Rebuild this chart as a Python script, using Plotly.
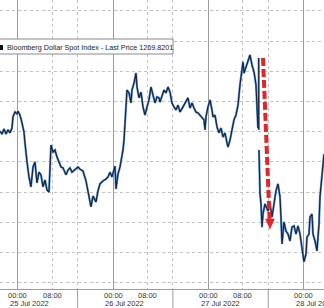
import plotly.graph_objects as go

# Hours since 25 Jul 2022 00:00 (Bloomberg intraday, compressed axis)
hours = [-4.53, -4.03, -3.52, -3.02, -2.52, -2.01, -1.51, -1.26, -0.76, -0.25, 0.00, 0.50, 1.01, 1.51,
         1.76, 2.01, 2.27, 2.77, 3.27, 3.78, 4.28, 4.78, 5.29, 5.79, 6.29, 6.80, 7.30, 7.80, 8.06, 8.31,
         8.81, 9.32, 9.82, 10.32, 10.83, 11.33, 12.08, 12.59, 13.09, 13.60, 14.35, 15.11, 15.61, 16.36,
         17.12, 17.62, 18.38, 18.88, 19.64, 20.14, 20.64, 21.40, 22.15, 22.66, 23.16, 23.66, 24.17, 24.42,
         24.67, 25.18, 25.68, 26.18, 26.43, 26.69, 26.94, 27.19, 27.44, 27.95, 28.45, 28.70, 29.20, 29.71,
         29.96, 30.46, 30.97, 31.47, 31.97, 32.48, 32.98, 33.48, 33.99, 34.49, 34.99, 35.50, 35.75, 36.25,
         36.76, 37.26, 37.76, 38.27, 38.77, 39.27, 39.78, 40.28, 40.79, 41.54, 42.30, 42.80, 43.30, 43.81,
         44.31, 44.81, 45.32, 45.82, 46.32, 46.83, 47.08, 47.33, 47.83, 48.34, 48.84, 49.09, 49.60, 50.10,
         50.60, 51.11, 51.61, 52.11, 52.62, 52.87, 53.37, 53.88, 54.38, 54.88, 55.39, 55.89, 56.39, 56.65,
         56.90, 57.40, 57.91, 58.41, 58.91, 59.42, 59.92, 60.17, 60.42, None, 60.60, 60.60, None, 60.67,
         60.80, 60.93, 61.18, 61.43, 61.68, 62.18, 62.94, 63.44, 63.95, 64.45, 64.95, 65.46, 65.96, 66.21,
         66.47, 66.97, 67.47, 67.98, 68.48, 68.98, 69.49, 69.99, 70.49, 71.00, 71.50, 71.75, 72.00, 72.51,
         72.76, 73.26, 73.51, 74.02, 74.27, 74.77, 75.28, 75.53, 75.78, 76.03, 76.28, 76.54, 76.79, 77.04]

price = [1271.02, 1270.92, 1271.09, 1270.92, 1271.06, 1270.96, 1271.12, 1271.49, 1271.65, 1271.59, 1271.68, 1271.55, 1271.29, 1270.99,
         1270.63, 1270.16, 1270.00, 1269.50, 1269.17, 1269.83, 1270.00, 1269.30, 1269.66, 1269.57, 1269.17, 1269.40, 1269.07, 1269.00, 1269.80, 1270.56,
         1270.33, 1270.39, 1270.16, 1270.00, 1269.83, 1269.80, 1269.57, 1269.73, 1269.80, 1269.66, 1269.73, 1269.83, 1269.76, 1269.70,
         1269.37, 1269.04, 1268.51, 1268.87, 1268.67, 1269.04, 1269.27, 1269.37, 1269.43, 1269.50, 1269.66, 1269.50, 1269.70, 1269.86,
         1269.10, 1269.60, 1269.83, 1270.16, 1270.39, 1270.72, 1271.32, 1271.95, 1272.38, 1272.28, 1271.95, 1272.38, 1272.61, 1272.94,
         1272.48, 1272.12, 1272.31, 1271.82, 1271.55, 1271.82, 1272.05, 1272.48, 1272.21, 1271.95, 1272.15, 1272.12, 1271.98, 1272.21,
         1272.38, 1272.28, 1272.48, 1272.31, 1271.95, 1271.82, 1271.72, 1271.88, 1271.65, 1271.82, 1271.98, 1272.12, 1271.78, 1271.95,
         1271.78, 1271.65, 1271.62, 1271.55, 1271.49, 1271.39, 1271.06, 1271.49, 1271.82, 1272.05, 1271.72, 1271.49, 1271.55, 1271.16,
         1270.96, 1271.12, 1270.82, 1270.96, 1270.63, 1270.49, 1270.72, 1271.06, 1271.39, 1271.55, 1271.88, 1272.55, 1273.14, 1273.31,
         1272.94, 1273.14, 1273.37, 1273.54, 1273.21, 1272.98, 1272.55, 1271.88, 1271.12, None, 1273.44, 1271.06, None, 1270.39,
         1269.40, 1268.94, 1268.61, 1267.84, 1268.27, 1268.61, 1268.37, 1268.61, 1268.17, 1268.54, 1269.04, 1269.27, 1268.84, 1268.17,
         1267.28, 1268.01, 1267.71, 1267.61, 1267.38, 1267.84, 1267.88, 1267.61, 1267.88, 1267.61, 1267.18, 1266.95, 1266.69, 1266.95,
         1267.51, 1267.61, 1268.17, 1268.27, 1267.61, 1267.38, 1267.05, 1267.51, 1267.94, 1268.84, 1269.17, 1269.60, 1270.03, 1270.26]

day_ticks = [0, 24, 48, 72]
day_dates = ["25 Jul 2022", "26 Jul 2022", "27 Jul 2022", "28 Jul 2022"]
hour_ticks = [8.6, 32.6, 56.6]
session_breaks = [15.0, 39.0, 63.0]
legend_text = "Bloomberg Dollar Spot Index - Last Price 1269.8201"
arrow_start = (61.68, 1273.44)
arrow_tip = (63.44, 1267.78)

fig = go.Figure()
fig.add_trace(go.Scatter(x=hours, y=price, mode="lines", connectgaps=False,
                         line=dict(color="#5a8fcf", width=2.2), hoverinfo="skip", showlegend=False))
fig.add_trace(go.Scatter(x=hours, y=price, mode="lines", connectgaps=False,
                         line=dict(color="#14233c", width=1.1), showlegend=False))

grid_minor = hour_ticks + session_breaks
fig.update_xaxes(range=[-4.53, 77.04], tickvals=day_ticks, showticklabels=False,
                 showgrid=True, gridcolor="#9c9c9c", gridwidth=1, zeroline=False,
                 showline=True, linecolor="#9c9c9c", linewidth=1, ticks="",
                 minor=dict(tickvals=grid_minor, showgrid=True, gridcolor="#c2c2c2",
                            griddash="dot", gridwidth=1))
fig.update_yaxes(range=[1265.79, 1275.36], tick0=1266, dtick=1, showticklabels=False,
                 showgrid=True, gridcolor="#c2c2c2", griddash="dot", gridwidth=1,
                 zeroline=False, showline=False)

font = dict(family="Liberation Sans, Arial, sans-serif", size=7.5, color="#333333")
annotations = []
for t, d in zip(day_ticks, day_dates):
    annotations.append(dict(x=t, y=0, xref="x", yref="paper", yanchor="top", yshift=-1,
                            text="00:00", showarrow=False, font=font, borderpad=0))
    annotations.append(dict(x=t, y=0, xref="x", yref="paper", yanchor="top", xanchor="left",
                            xshift=-9, yshift=-9, text=d, showarrow=False, font=font, borderpad=0))
for t in hour_ticks:
    annotations.append(dict(x=t, y=0, xref="x", yref="paper", yanchor="top", yshift=-1,
                            text="08:00", showarrow=False, font=font, borderpad=0))
annotations.append(dict(x=5 / 324, y=1 - 47.5 / 289, xref="paper", yref="paper",
                        xanchor="left", yanchor="middle", text=legend_text, showarrow=False,
                        font=dict(family="Liberation Sans, Arial, sans-serif", size=7.2, color="#222222")))

shapes = []
for s in session_breaks:
    shapes.append(dict(type="line", xref="x", yref="paper", x0=s, x1=s, y0=0, y1=-0.08,
                       line=dict(color="#9c9c9c", width=1)))
shapes.append(dict(type="rect", xref="paper", yref="paper", x0=-0.02, x1=173 / 324,
                   y0=1 - 54 / 289, y1=1 - 39 / 289, fillcolor="white",
                   line=dict(color="#8a8a8a", width=1), layer="above"))
shapes.append(dict(type="rect", xref="paper", yref="paper", x0=-0.01, x1=3 / 324,
                   y0=1 - 50 / 289, y1=1 - 45 / 289, fillcolor="#111111",
                   line=dict(width=0), layer="above"))
shapes.append(dict(type="line", xref="x", yref="y", x0=arrow_start[0], y0=arrow_start[1],
                   x1=63.34, y1=1268.11, line=dict(color="#e0262b", width=4, dash="8px,3px")))
shapes.append(dict(type="path", xref="x", yref="y", xsizemode="pixel", ysizemode="pixel",
                   xanchor=arrow_tip[0], yanchor=arrow_tip[1],
                   path="M -4.5 10 L 4.5 10 L 0 0 Z", fillcolor="#e0262b",
                   line=dict(color="#e0262b", width=0.5)))

fig.update_layout(width=324, height=308, margin=dict(l=0, r=0, t=0, b=19),
                  paper_bgcolor="white", plot_bgcolor="white",
                  annotations=annotations, shapes=shapes, showlegend=False)
fig.write_html("out.html")
